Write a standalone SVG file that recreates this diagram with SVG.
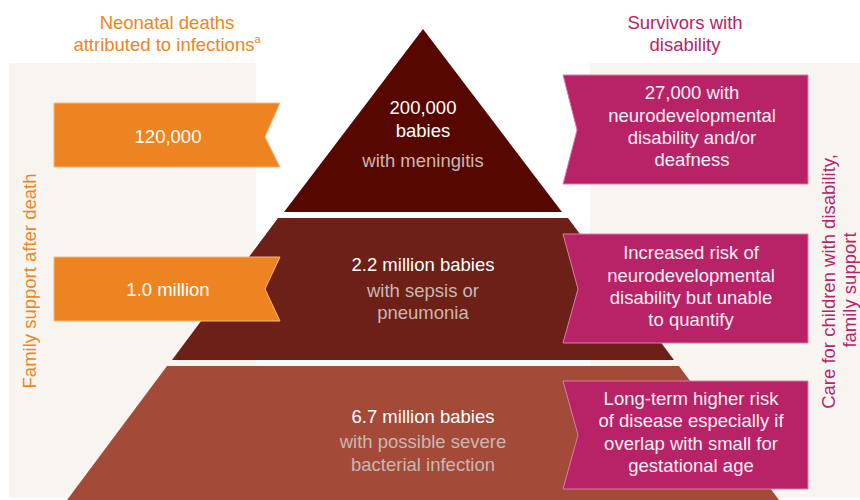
<svg xmlns="http://www.w3.org/2000/svg" width="860" height="500" viewBox="0 0 860 500">
<style>
text{font-family:"Liberation Sans",Arial,sans-serif;font-size:18.5px;text-anchor:middle}
.panel{fill:#F8F5F1}
.org{fill:#EE8421;stroke:#F6B77A;stroke-width:1}
.mag{fill:#B82367;stroke:#D77FA6;stroke-width:1}
.wt{fill:#FFFFFF}
.mt{fill:#FBEFF4}
.sub{fill:#C9B7B3}
.ho{fill:#EE8421}
.hm{fill:#B82367}
</style>
<rect width="860" height="500" fill="#FFFFFF"/>
<g id="panels">
<rect class="panel" x="9" y="63" width="247" height="435"/>
<rect class="panel" x="590" y="63" width="270" height="435"/>
</g>
<g id="headers">
<text class="ho" x="167" y="29">Neonatal deaths</text>
<text class="ho" x="167" y="51">attributed to infections<tspan font-size="11" dy="-8">a</tspan></text>
<text class="hm" x="685" y="29">Survivors with</text>
<text class="hm" x="685" y="51">disability</text>
<text class="ho" transform="translate(36 281) rotate(-90)">Family support after death</text>
<text class="hm" transform="translate(835 281.5) rotate(-90)">Care for children with disability,</text>
<text class="hm" transform="translate(856 290) rotate(-90)">family support</text>
</g>
<g id="tier-meningitis">
<polygon points="423,29 562,212 284,212" fill="#560800"/>
<text class="wt" x="423" y="114">200,000</text>
<text class="wt" x="423" y="137">babies</text>
<text class="sub" x="423" y="167">with meningitis</text>
</g>
<g id="tier-sepsis">
<polygon points="278,218 568,218 674,360 172,360" fill="#6D2017"/>
<text class="wt" x="423" y="271">2.2 million babies</text>
<text class="sub" x="423" y="297">with sepsis or</text>
<text class="sub" x="423" y="319">pneumonia</text>
</g>
<g id="tier-psbi">
<polygon points="167,366 679,366 779,500 67,500" fill="#A44A39"/>
<text class="wt" x="423" y="423">6.7 million babies</text>
<text class="sub" x="423" y="448">with possible severe</text>
<text class="sub" x="423" y="471">bacterial infection</text>
</g>
<g id="deaths-meningitis">
<polygon class="org" points="54,103 280,103 265,137 280,167 54,167"/>
<text class="wt" x="168" y="143">120,000</text>
</g>
<g id="deaths-sepsis">
<polygon class="org" points="54,257 280,257 265,289 280,321 54,321"/>
<text class="wt" x="168" y="296">1.0 million</text>
</g>
<g id="survivors-meningitis">
<polygon class="mag" points="563,75 808,75 808,184 563,184 577,130"/>
<text class="mt" x="692" y="99">27,000 with</text>
<text class="mt" x="692" y="122">neurodevelopmental</text>
<text class="mt" x="692" y="144">disability and/or</text>
<text class="mt" x="692" y="166">deafness</text>
</g>
<g id="survivors-sepsis">
<polygon class="mag" points="563,234 808,234 808,343 563,343 578,289"/>
<text class="mt" x="691" y="259">Increased risk of</text>
<text class="mt" x="691" y="282">neurodevelopmental</text>
<text class="mt" x="691" y="304">disability but unable</text>
<text class="mt" x="691" y="326">to quantify</text>
</g>
<g id="survivors-psbi">
<polygon class="mag" points="563,381 808,381 808,489 563,489 578,435"/>
<text class="mt" x="691" y="405">Long-term higher risk</text>
<text class="mt" x="691" y="427">of disease especially if</text>
<text class="mt" x="691" y="450">overlap with small for</text>
<text class="mt" x="691" y="472">gestational age</text>
</g>
</svg>
